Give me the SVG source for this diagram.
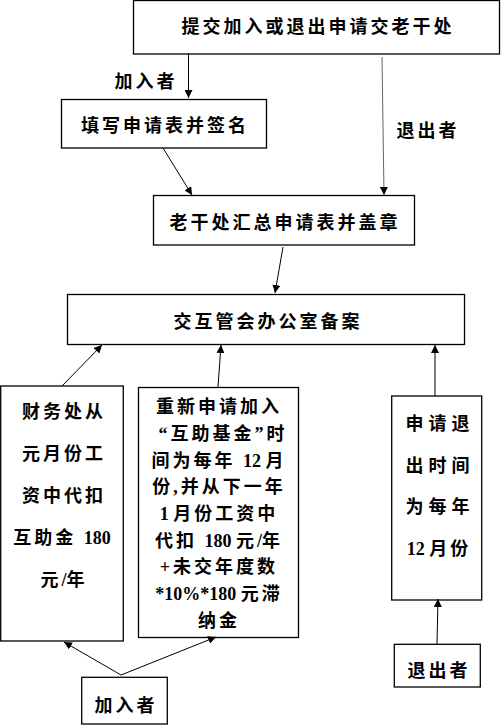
<svg xmlns="http://www.w3.org/2000/svg" width="501" height="725" viewBox="0 0 501 725">
<defs>
<marker id="ah" viewBox="0 0 10 10" refX="10" refY="5" markerWidth="8" markerHeight="8" markerUnits="userSpaceOnUse" orient="auto">
<path d="M0,0 L10,5 L0,10 Z" fill="#000"/>
</marker>
</defs>
<style>
rect{fill:#fff;stroke:#000;stroke-width:1.3}
text{font-family:"Liberation Serif","Noto Sans CJK SC",serif;font-size:18px;font-weight:bold;fill:#000;text-anchor:middle;letter-spacing:3px}
.c line{stroke:#000;stroke-width:1;marker-end:url(#ah)}
.w{letter-spacing:5px}
.d{letter-spacing:0}
</style>
<rect width="501" height="725" style="fill:#fff;stroke:none"/>
<g id="n1"><rect x="133.5" y="0.5" width="366" height="53.5"/><text x="318" y="33">提交加入或退出申请交老干处</text></g>
<g id="n2"><rect x="61.5" y="99.5" width="205" height="48.5"/><text x="165" y="132">填写申请表并签名</text></g>
<g id="n3"><rect x="153.5" y="195.5" width="261" height="49.5"/><text x="285" y="229">老干处汇总申请表并盖章</text></g>
<g id="n4"><rect x="67.5" y="294.5" width="397" height="50"/><text x="268" y="328">交互管会办公室备案</text></g>
<g id="n5"><rect x="0.7" y="386" width="122.6" height="255"/>
<text x="64" y="418">财务处从</text>
<text x="64" y="460">元月份工</text>
<text x="64" y="502">资中代扣</text>
<text x="62" y="544">互助金 <tspan class="d">180</tspan></text>
<text x="64" y="586">元<tspan class="d">/</tspan>年</text></g>
<g id="n6"><rect x="138.5" y="387.5" width="160" height="250"/>
<text x="219" y="413">重新申请加入</text>
<text x="223" y="440">“互助基金”时</text>
<text x="219" y="467">间为每年 <tspan class="d">12 </tspan>月</text>
<text x="219" y="493">份,并从下一年</text>
<text x="219" y="520"><tspan class="d">1 </tspan>月份工资中</text>
<text x="219" y="547">代扣 <tspan class="d">180 </tspan>元<tspan class="d">/</tspan>年</text>
<text x="219" y="573">+未交年度数</text>
<text x="219" y="600"><tspan class="d">*10%*180 </tspan>元滞</text>
<text x="219" y="627">纳金</text></g>
<g id="n7"><rect x="391.7" y="396" width="90" height="204"/>
<text class="w" x="440" y="430">申请退</text>
<text class="w" x="440" y="472">出时间</text>
<text class="w" x="440" y="513">为每年</text>
<text x="439" y="555"><tspan class="d">12 </tspan>月份</text></g>
<g id="n8"><rect x="394.3" y="644.3" width="86" height="42.7"/><text x="439" y="677">退出者</text></g>
<g id="n9"><rect x="81.7" y="677.3" width="85.6" height="46.7"/><text x="126" y="712">加入者</text></g>
<g id="labels">
<text x="146" y="88">加入者</text>
<text x="428" y="137">退出者</text>
</g>
<g class="c" id="connectors">
<line x1="188.5" y1="53" x2="188.5" y2="98"/>
<line x1="382" y1="57" x2="384" y2="195" style="stroke:#666"/>
<line x1="163" y1="148" x2="192" y2="195"/>
<line x1="283" y1="247" x2="275" y2="293"/>
<line x1="62" y1="386" x2="102" y2="345"/>
<line x1="218" y1="387" x2="221" y2="345"/>
<line x1="435" y1="396" x2="435" y2="345"/>
<line x1="437" y1="644" x2="438" y2="599"/>
<line x1="121" y1="675" x2="64" y2="642"/>
<line x1="121" y1="675" x2="216" y2="637"/>
</g>
</svg>
